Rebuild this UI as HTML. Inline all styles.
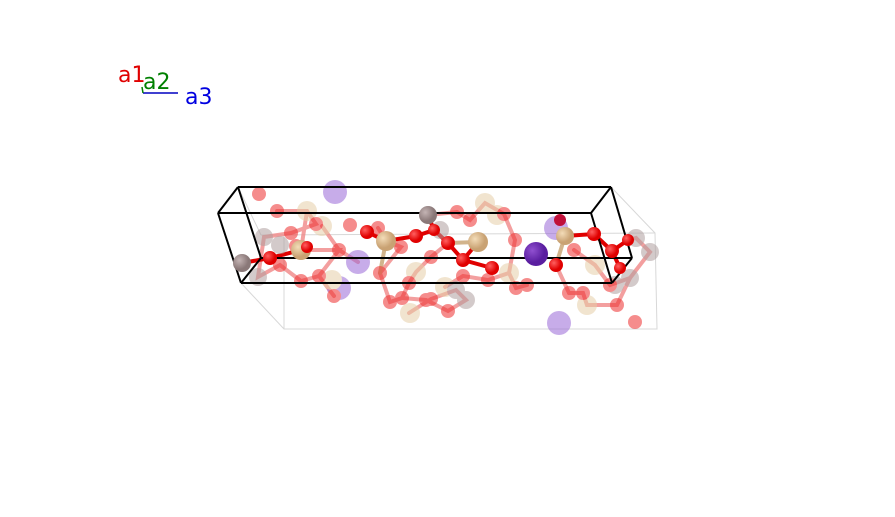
<!DOCTYPE html>
<html><head><style>
html,body{margin:0;padding:0;background:#fff;width:895px;height:517px;overflow:hidden}
svg{display:block}
text{font-family:"DejaVu Sans","Liberation Sans",sans-serif;font-size:22px}
</style></head><body>
<svg width="895" height="517" viewBox="0 0 895 517">
<defs>
<radialGradient id="gr" cx="35%" cy="35%"><stop offset="0" stop-color="#ff6060"/><stop offset="1" stop-color="#e00000"/></radialGradient>
<radialGradient id="gt" cx="35%" cy="35%"><stop offset="0" stop-color="#f3dcb8"/><stop offset="1" stop-color="#c9a273"/></radialGradient>
<radialGradient id="gg" cx="35%" cy="35%"><stop offset="0" stop-color="#c4b4b4"/><stop offset="1" stop-color="#8a7878"/></radialGradient>
<radialGradient id="gp" cx="35%" cy="35%"><stop offset="0" stop-color="#9050d0"/><stop offset="1" stop-color="#5a1ea0"/></radialGradient>
</defs>
<text x="118" y="82" fill="#e00000">a1</text>
<text x="143" y="89" fill="#008000">a2</text>
<text x="185" y="104" fill="#0000e0">a3</text>
<line x1="143" y1="93" x2="178" y2="93" stroke="#0000c0" stroke-width="1.5"/>
<line x1="142" y1="87" x2="143" y2="93" stroke="#008000" stroke-width="1.5"/>
<g stroke="#d8d8d8" stroke-width="1" fill="none">
<polyline points="241,283 284,329 657,329 655,233 611,187"/>
<line x1="284" y1="235" x2="284" y2="329"/>
<line x1="261" y1="235" x2="655" y2="233"/>
<line x1="238" y1="187" x2="261" y2="235"/>
</g>
<g stroke="#f08080" stroke-width="4" stroke-linecap="round" fill="none" opacity="0.75">
<polyline points="277,211 307,211 316,224 291,233 264,237 258,277 280,265 301,281 319,276 334,296"/>
<polyline points="307,211 301,250 339,250 319,276"/>
<polyline points="322,226 339,250 358,262"/>
<polyline points="380,273 401,247 386,241 378,228"/>
<polyline points="380,273 390,302 402,298 409,283 416,272 431,257 448,243"/>
<polyline points="402,298 426,300 448,311 466,300 456,290 431,299 409,313"/>
<polyline points="445,287 463,276 488,280 509,273 516,288 527,285"/>
<polyline points="457,212 470,220 485,203 504,214 515,240 509,273"/>
<polyline points="428,215 457,212"/>
<polyline points="569,293 583,293 587,305 617,305 630,278 650,252 636,238 628,240"/>
<polyline points="574,250 595,265 610,285 630,278"/>
<polyline points="556,265 569,293"/>
</g>
<g stroke="#e00000" stroke-width="4" stroke-linecap="round" fill="none">
<polyline points="367,232 386,241 416,236 434,230 428,215"/>
<polyline points="434,230 448,243 463,260"/>
<polyline points="478,242 463,260 492,268"/>
<polyline points="565,236 594,234 612,251 628,240"/>
<polyline points="612,251 620,268"/>
<polyline points="242,263 270,258 301,250"/>
</g>
<g stroke="#d2b48c" stroke-width="4" stroke-linecap="round">
<line x1="386" y1="241" x2="380" y2="273"/>
<line x1="478" y1="242" x2="448" y2="243"/>
<line x1="565" y1="236" x2="556" y2="265"/>
</g>
<g opacity="0.55">
<g fill="#9a6ad8"><circle cx="335" cy="192" r="12"/><circle cx="358" cy="262" r="12"/><circle cx="339" cy="288" r="12"/><circle cx="556" cy="228" r="12"/><circle cx="559" cy="323" r="12"/></g>
<g fill="#e6cfa8"><circle cx="307" cy="211" r="10"/><circle cx="322" cy="226" r="10"/><circle cx="410" cy="313" r="10"/><circle cx="485" cy="203" r="10"/><circle cx="497" cy="215" r="10"/><circle cx="416" cy="272" r="10"/><circle cx="509" cy="273" r="10"/><circle cx="445" cy="287" r="10"/><circle cx="587" cy="305" r="10"/><circle cx="595" cy="265" r="10"/><circle cx="332" cy="280" r="10"/></g>
<g fill="#b0a0a0"><circle cx="264" cy="237" r="9"/><circle cx="258" cy="277" r="9"/><circle cx="440" cy="230" r="9"/><circle cx="466" cy="300" r="9"/><circle cx="456" cy="290" r="9"/><circle cx="636" cy="238" r="9"/><circle cx="650" cy="252" r="9"/><circle cx="630" cy="278" r="9"/><circle cx="615" cy="285" r="9"/><circle cx="280" cy="245" r="9"/></g>
<g fill="#ee3030"><circle cx="259" cy="194" r="7"/><circle cx="277" cy="211" r="7"/><circle cx="291" cy="233" r="7"/><circle cx="316" cy="224" r="7"/><circle cx="339" cy="250" r="7"/><circle cx="301" cy="281" r="7"/><circle cx="319" cy="276" r="7"/><circle cx="334" cy="296" r="7"/><circle cx="380" cy="273" r="7"/><circle cx="401" cy="247" r="7"/><circle cx="378" cy="228" r="7"/><circle cx="431" cy="257" r="7"/><circle cx="409" cy="283" r="7"/><circle cx="431" cy="299" r="7"/><circle cx="390" cy="302" r="7"/><circle cx="402" cy="298" r="7"/><circle cx="426" cy="300" r="7"/><circle cx="448" cy="311" r="7"/><circle cx="457" cy="212" r="7"/><circle cx="470" cy="220" r="7"/><circle cx="504" cy="214" r="7"/><circle cx="515" cy="240" r="7"/><circle cx="463" cy="276" r="7"/><circle cx="488" cy="280" r="7"/><circle cx="516" cy="288" r="7"/><circle cx="527" cy="285" r="7"/><circle cx="569" cy="293" r="7"/><circle cx="583" cy="293" r="7"/><circle cx="617" cy="305" r="7"/><circle cx="635" cy="322" r="7"/><circle cx="574" cy="250" r="7"/><circle cx="610" cy="285" r="7"/><circle cx="280" cy="265" r="7"/><circle cx="296" cy="246" r="7"/><circle cx="350" cy="225" r="7"/></g>
</g>
<g stroke="#000" stroke-width="2" fill="none">
<line x1="238" y1="187" x2="611" y2="187"/>
<line x1="218" y1="213" x2="591" y2="213"/>
<line x1="261" y1="258" x2="632" y2="258"/>
<line x1="241" y1="283" x2="612" y2="283"/>
<line x1="238" y1="187" x2="218" y2="213"/>
<line x1="218" y1="213" x2="241" y2="283"/>
<line x1="238" y1="187" x2="261" y2="258"/>
<line x1="261" y1="258" x2="241" y2="283"/>
<line x1="611" y1="187" x2="591" y2="213"/>
<line x1="611" y1="187" x2="632" y2="258"/>
<line x1="591" y1="213" x2="612" y2="283"/>
<line x1="632" y1="258" x2="612" y2="283"/>
</g>
<circle cx="536" cy="254" r="12" fill="url(#gp)"/>
<g fill="url(#gt)"><circle cx="301" cy="250" r="10"/><circle cx="386" cy="241" r="10"/><circle cx="478" cy="242" r="10"/><circle cx="565" cy="236" r="9"/></g>
<g fill="url(#gg)"><circle cx="242" cy="263" r="9"/><circle cx="428" cy="215" r="9"/></g>
<g fill="url(#gr)"><circle cx="367" cy="232" r="7"/><circle cx="416" cy="236" r="7"/><circle cx="434" cy="230" r="6"/><circle cx="448" cy="243" r="7"/><circle cx="463" cy="260" r="7"/><circle cx="492" cy="268" r="7"/><circle cx="594" cy="234" r="7"/><circle cx="612" cy="251" r="7"/><circle cx="628" cy="240" r="6"/><circle cx="556" cy="265" r="7"/><circle cx="620" cy="268" r="6"/><circle cx="270" cy="258" r="7"/><circle cx="307" cy="247" r="6"/></g>
<circle cx="560" cy="220" r="6" fill="#c0103a"/>
</svg>
</body></html>
